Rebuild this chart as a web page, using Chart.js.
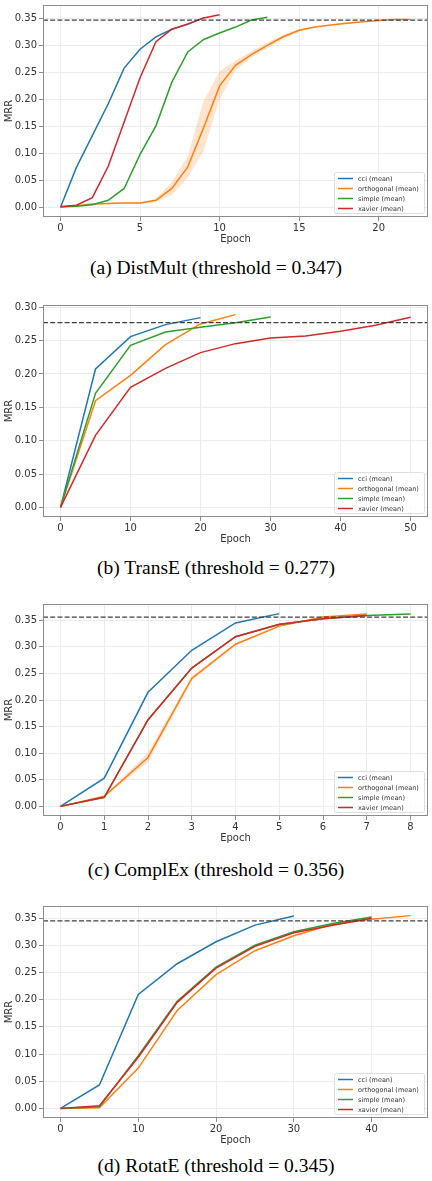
<!DOCTYPE html>
<html>
<head>
<meta charset="utf-8">
<script src="https://cdn.jsdelivr.net/npm/chart.js@4.4.0/dist/chart.umd.min.js"></script>
<style>
body { margin: 0; background: #fff; width: 432px; height: 1181px; position: relative; overflow: hidden; }
.panel { position: absolute; left: 0; width: 432px; height: 250px; }
.caption { position: absolute; left: 0; width: 432px; text-align: center; font-family: "Liberation Serif", "Times New Roman", serif; font-size: 19.5px; line-height: 22px; color: #000; }
</style>
</head>
<body>
<div class="panel" style="top:0px"><canvas id="c1" width="432" height="250"></canvas></div>
<div class="caption" style="top:257px">(a) DistMult (threshold = 0.347)</div>
<div class="panel" style="top:300px"><canvas id="c2" width="432" height="250"></canvas></div>
<div class="caption" style="top:557px">(b) TransE (threshold = 0.277)</div>
<div class="panel" style="top:599px"><canvas id="c3" width="432" height="250"></canvas></div>
<div class="caption" style="top:859px">(c) ComplEx (threshold = 0.356)</div>
<div class="panel" style="top:901px"><canvas id="c4" width="432" height="250"></canvas></div>
<div class="caption" style="top:1155px">(d) RotatE (threshold = 0.345)</div>
<script>
var seriesNames = ["cci (mean)", "orthogonal (mean)", "simple (mean)", "xavier (mean)"]
var seriesColors = ["#1f77b4", "#ff7f0e", "#2ca02c", "#d62728"]
var thresholds = [0.347, 0.277, 0.356, 0.345]

// (a) DistMult
var distEpochs = [0, 1, 2, 3, 4, 5, 6, 7, 8, 9, 10, 11, 12, 13, 14, 15, 16, 17, 18, 19, 20, 21, 22]
var distCci = [0.000, 0.074, 0.133, 0.192, 0.258, 0.293, 0.316, 0.330, 0.339, 0.351]
var distOrth = [0.001, 0.003, 0.006, 0.007, 0.008, 0.008, 0.013, 0.035, 0.075, 0.148, 0.225, 0.263, 0.283, 0.300, 0.316, 0.328, 0.334, 0.338, 0.341, 0.344, 0.346, 0.348, 0.348]
var distOrthUpper = [0.001, 0.003, 0.006, 0.007, 0.008, 0.009, 0.016, 0.047, 0.095, 0.198, 0.252, 0.272, 0.289, 0.305, 0.320, 0.330, 0.335, 0.339, 0.342, 0.345, 0.347, 0.349, 0.349]
var distOrthLower = [0.001, 0.003, 0.006, 0.007, 0.008, 0.007, 0.010, 0.023, 0.055, 0.105, 0.200, 0.254, 0.277, 0.295, 0.312, 0.326, 0.333, 0.337, 0.340, 0.343, 0.345, 0.347, 0.347]
var distSimple = [0.001, 0.002, 0.005, 0.013, 0.035, 0.098, 0.151, 0.232, 0.288, 0.311, 0.323, 0.334, 0.347, 0.352]
var distXavier = [0.001, 0.004, 0.018, 0.076, 0.158, 0.240, 0.307, 0.330, 0.340, 0.351, 0.357]
var distXTicks = [0, 5, 10, 15, 20]
var distYTicks = [0, 0.05, 0.10, 0.15, 0.20, 0.25, 0.30, 0.35]

// (b) TransE
var transEpochs = [0, 5, 10, 15, 20, 25, 30, 35, 40, 45, 50]
var transCci = [0, 0.2075, 0.256, 0.274, 0.2845]
var transOrth = [0, 0.160, 0.198, 0.244, 0.275, 0.289]
var transSimple = [0, 0.171, 0.243, 0.263, 0.270, 0.277, 0.2855]
var transXavier = [0, 0.108, 0.180, 0.2085, 0.232, 0.2455, 0.254, 0.257, 0.264, 0.273, 0.285]
var transXTicks = [0, 10, 20, 30, 40, 50]
var transYTicks = [0, 0.05, 0.10, 0.15, 0.20, 0.25, 0.30]

// (c) ComplEx
var complEpochs = [0, 1, 2, 3, 4, 5, 6, 7, 8]
var complCci = [0, 0.053, 0.2145, 0.2935, 0.345, 0.3625]
var complOrth = [0, 0.019, 0.092, 0.2405, 0.305, 0.339, 0.356, 0.362]
var complOrthUpper = [0, 0.020, 0.102, 0.245, 0.307, 0.340, 0.356, 0.362]
var complOrthLower = [0, 0.018, 0.083, 0.236, 0.303, 0.338, 0.356, 0.362]
var complSimple = [0, 0.017, 0.163, 0.260, 0.319, 0.342, 0.353, 0.359, 0.362]
var complXavier = [0, 0.017, 0.1625, 0.260, 0.319, 0.3425, 0.353, 0.359]
var complXTicks = [0, 1, 2, 3, 4, 5, 6, 7, 8]
var complYTicks = [0, 0.05, 0.10, 0.15, 0.20, 0.25, 0.30, 0.35]

// (d) RotatE
var rotEpochs = [0, 5, 10, 15, 20, 25, 30, 35, 40, 45]
var rotCci = [0, 0.043, 0.2095, 0.266, 0.3065, 0.337, 0.354]
var rotOrth = [0, 0.001, 0.074, 0.180, 0.246, 0.290, 0.3175, 0.3385, 0.348, 0.3545]
var rotSimple = [0, 0.003, 0.097, 0.197, 0.260, 0.300, 0.325, 0.340, 0.352]
var rotXavier = [0, 0.005, 0.094, 0.195, 0.258, 0.298, 0.323, 0.337, 0.3495]
var rotXTicks = [0, 10, 20, 30, 40]
var rotYTicks = [0, 0.05, 0.10, 0.15, 0.20, 0.25, 0.30, 0.35]

var tickFont = { family: "DejaVu Sans", size: 10 }
var textColor = "#333333"

function points(epochs, values) {
      return values.map(function(v, i) { return { x: epochs[i], y: v } })
}

function drawPanel(id, epochs, series, band, xTicks, yTicks, xRange, yRange, threshold) {
      var datasets = []
      /*
      shaded spread around the orthogonal mean
      */
      if (band) {
            datasets.push({ isBand: true, data: points(epochs, band[0]), borderWidth: 0, pointRadius: 0, fill: false, order: 10 })
            datasets.push({ isBand: true, data: points(epochs, band[1]), borderWidth: 0, pointRadius: 0, fill: "-1", backgroundColor: "rgba(255,127,14,0.2)", order: 10 })
      }
      series.forEach(function(s, i) {
            datasets.push({
                  label: seriesNames[i],
                  data: points(epochs, s),
                  borderColor: seriesColors[i],
                  backgroundColor: seriesColors[i],
                  borderWidth: 1.5,
                  pointRadius: 0,
                  tension: 0,
                  fill: false,
                  order: 4 - i
            })
      })

      var extras = {
            id: "extras",
            afterDatasetsDraw: function(chart) {
                  var ctx = chart.ctx, a = chart.chartArea
                  var y = chart.scales.y.getPixelForValue(threshold)
                  ctx.save()
                  // threshold line
                  ctx.strokeStyle = "#404040"
                  ctx.lineWidth = 1.2
                  ctx.setLineDash([5, 2.2])
                  ctx.beginPath()
                  ctx.moveTo(a.left, y)
                  ctx.lineTo(a.right, y)
                  ctx.stroke()
                  ctx.setLineDash([])
                  // frame
                  ctx.strokeStyle = "#8c8c8c"
                  ctx.lineWidth = 1
                  ctx.strokeRect(a.left + 0.5, a.top + 0.5, a.right - a.left - 1, a.bottom - a.top - 1)
                  // legend box
                  var items = chart.data.datasets.filter(function(d) { return !d.isBand })
                  var w = 90, h = 41
                  var lx = a.right - 4 - w, ly = a.bottom - 4 - h
                  ctx.fillStyle = "rgba(255,255,255,0.85)"
                  ctx.strokeStyle = "#d6d6d6"
                  ctx.lineWidth = 0.8
                  ctx.beginPath()
                  ctx.roundRect(lx + 0.5, ly + 0.5, w, h, 2)
                  ctx.fill()
                  ctx.stroke()
                  ctx.font = "6.5px 'DejaVu Sans'"
                  ctx.textBaseline = "middle"
                  items.forEach(function(d, i) {
                        var cy = ly + 6.5 + i * 10
                        ctx.strokeStyle = d.borderColor
                        ctx.lineWidth = 1.5
                        ctx.beginPath()
                        ctx.moveTo(lx + 4, cy)
                        ctx.lineTo(lx + 19, cy)
                        ctx.stroke()
                        ctx.fillStyle = textColor
                        ctx.fillText(d.label, lx + 24, cy + 0.5)
                  })
                  ctx.restore()
            }
      }

      return new Chart(document.getElementById(id), {
            type: "line",
            data: { datasets: datasets },
            plugins: [extras],
            options: {
                  responsive: false,
                  animation: false,
                  layout: { padding: { top: 5, right: 4, left: 0, bottom: 0 } },
                  plugins: { legend: { display: false }, tooltip: { enabled: false } },
                  scales: {
                        x: {
                              type: "linear",
                              min: xRange[0],
                              max: xRange[1],
                              afterBuildTicks: function(s) { s.ticks = xTicks.map(function(v) { return { value: v } }) },
                              afterFit: function(s) { s.height = 33; s.paddingLeft = 0; s.paddingRight = 0 },
                              ticks: { font: tickFont, color: textColor, padding: 1, maxRotation: 0, callback: function(v) { return String(v) } },
                              grid: { color: "#ebebeb", tickColor: "#8c8c8c", tickLength: 4 },
                              border: { display: false },
                              title: { display: true, text: "Epoch", font: tickFont, color: textColor, padding: { top: 0, bottom: 5 } }
                        },
                        y: {
                              type: "linear",
                              min: yRange[0],
                              max: yRange[1],
                              afterBuildTicks: function(s) { s.ticks = yTicks.map(function(v) { return { value: v } }) },
                              afterFit: function(s) { s.width = 43; s.paddingTop = 0; s.paddingBottom = 0 },
                              ticks: { font: tickFont, color: textColor, padding: 2, callback: function(v) { return v.toFixed(2) } },
                              grid: { color: "#ebebeb", tickColor: "#8c8c8c", tickLength: 4 },
                              border: { display: false },
                              title: { display: true, text: "MRR", font: tickFont, color: textColor, padding: { top: 3, bottom: 0 } }
                        }
                  }
            }
      })
}

drawPanel("c1", distEpochs, [distCci, distOrth, distSimple, distXavier], [distOrthLower, distOrthUpper],
      distXTicks, distYTicks, [-1.1, 23.1], [-0.0179, 0.3749], thresholds[0])
drawPanel("c2", transEpochs, [transCci, transOrth, transSimple, transXavier], null,
      transXTicks, transYTicks, [-2.5, 52.5], [-0.01445, 0.30345], thresholds[1])
drawPanel("c3", complEpochs, [complCci, complOrth, complSimple, complXavier], [complOrthLower, complOrthUpper],
      complXTicks, complYTicks, [-0.4, 8.4], [-0.0181, 0.3806], thresholds[2])
drawPanel("c4", rotEpochs, [rotCci, rotOrth, rotSimple, rotXavier], null,
      rotXTicks, rotYTicks, [-2.25, 47.25], [-0.0177, 0.3722], thresholds[3])
</script>
</body>
</html>
